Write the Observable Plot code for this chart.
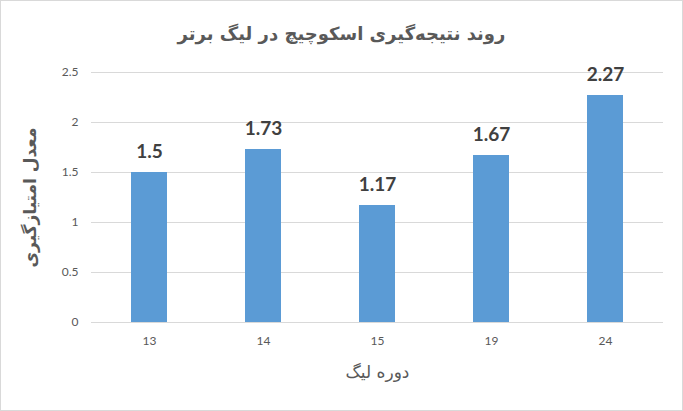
<!DOCTYPE html>
<html><head><meta charset="utf-8">
<script src="https://cdn.jsdelivr.net/npm/d3@7"></script>
<script src="https://cdn.jsdelivr.net/npm/@observablehq/plot@0.6"></script>
<style>
html,body{margin:0;padding:0;background:#fff;}
#wrap{position:relative;width:683px;height:411px;box-sizing:border-box;border:1px solid #d9d9d9;overflow:hidden;}
#title{height:59px;line-height:66px;text-align:center;font-family:"DejaVu Sans",sans-serif;font-weight:bold;font-size:18px;color:#595959;direction:rtl;}
svg{display:block;}
</style></head>
<body><div id="wrap"><div id="title">روند نتیجه‌گیری اسکوچیچ در لیگ برتر</div><div id="chart"></div></div>
<script>
const seasons = ["13","14","15","19","24"];
const points = [1.5, 1.73, 1.17, 1.67, 2.27];
const labels = ["1.5","1.73","1.17","1.67","2.27"];
const yTicks = [0, 0.5, 1, 1.5, 2, 2.5];
const yTickLabels = ["0","0.5","1","1.5","2","2.5"];
const xTitle = "دوره لیگ";
const yTitle = "معدل امتیازگیری";

const data = seasons.map((s,i)=>({season:s, value:points[i], label:labels[i]}));

const chart = Plot.plot({
  width: 681,
  height: 350,
  marginLeft: 90,
  marginRight: 19,
  marginTop: 12,
  marginBottom: 88,
  style: {fontFamily: "Lato, 'Open Sans', sans-serif", fontSize: "12px", color: "#595959", background: "#fff"},
  x: {domain: seasons, paddingInner: 0.685, paddingOuter: 0.3425, label: null},
  y: {domain: [0, 2.5], label: null},
  marks: [
    Plot.ruleY(yTicks, {stroke: "#d9d9d9", strokeWidth: 1}),
    Plot.barY(data, {x: "season", y: "value", fill: "#5b9bd5"}),
    Plot.text(data, {x: "season", y: "value", text: "label", dy: -21, fontSize: 19, fontWeight: "bold", fill: "#404040", fontFamily: "Lato, sans-serif"}),
    Plot.axisY(yTicks, {tickSize: 0, tickPadding: 13, tickFormat: (d)=>yTickLabels[yTicks.indexOf(d)], fill: "#595959", fontSize: 12, label: null}),
    Plot.axisX(seasons, {tickSize: 0, tickPadding: 14, fill: "#595959", fontSize: 12, label: null}),
    Plot.text([xTitle], {frameAnchor: "bottom", lineAnchor: "middle", textAnchor: "middle", dy: 50, text: d=>d, fontSize: 17, fill: "#595959", fontFamily: "'DejaVu Sans', sans-serif"}),
    Plot.text([yTitle], {frameAnchor: "left", textAnchor: "middle", lineAnchor: "middle", dx: -61, rotate: -90, text: d=>d, fontSize: 17, fontWeight: "bold", fill: "#595959", fontFamily: "'DejaVu Sans', sans-serif"})
  ]
});
document.getElementById("chart").appendChild(chart);
</script>
</body></html>
